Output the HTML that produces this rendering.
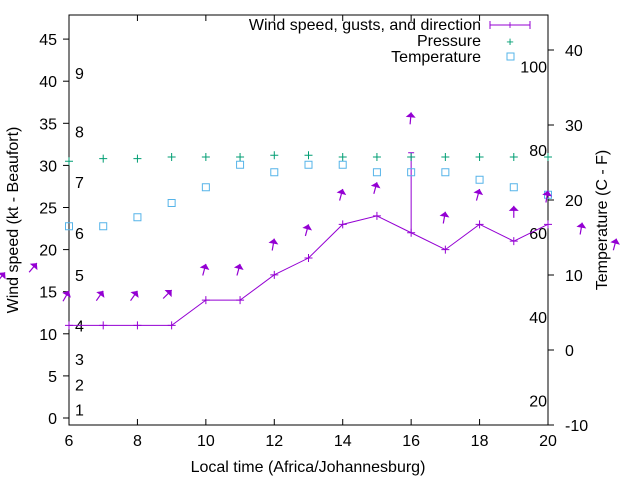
<!DOCTYPE html>
<html><head><meta charset="utf-8"><style>
html,body{margin:0;padding:0;background:#fff}
svg{display:block;font-family:"Liberation Sans",sans-serif}
</style></head><body>
<svg id="chart" width="640" height="480" viewBox="0 0 640 480" xmlns="http://www.w3.org/2000/svg">
<g id="axes"></g>
<g id="marks"></g>
<g id="legend" font-size="16" fill="#000">
  <text x="481" y="30" text-anchor="end">Wind speed, gusts, and direction</text>
  <line x1="490" y1="25" x2="530" y2="25" stroke="#9400d3"/>
  <line x1="490" y1="21" x2="490" y2="29" stroke="#9400d3"/>
  <line x1="530" y1="21" x2="530" y2="29" stroke="#9400d3"/>
  <text x="510" y="29" text-anchor="middle" fill="#9400d3" font-size="12">+</text>
  <text x="481" y="46" text-anchor="end">Pressure</text>
  <text x="510" y="46" text-anchor="middle" fill="#009e73" font-size="13">+</text>
  <text x="481" y="62" text-anchor="end">Temperature</text>
  <rect x="507" y="53" width="7" height="7" fill="none" stroke="#56b4e9"/>
</g>
</svg>
<script>
const hours = [6,7,8,9,10,11,12,13,14,15,16,17,18,19,20];
const windKt = [11,11,11,11,14,14,17,19,23,24,22,20,23,21,23];
const gustKt = [null,null,null,null,null,null,null,null,null,null,31.5,null,null,null,null];
const pressureVals = [30.5,30.8,30.8,31,31,31,31.2,31.2,31,31,31,31,31,31,31];
const tempC = [16.5,16.5,17.7,19.6,21.7,24.7,23.7,24.7,24.7,23.7,23.7,23.7,22.7,21.7,20.7];
const arrowHours = [4.13,5.06,6,7,8,9,10,11,12,13,14,15,16,17,18,19,20,21,22];
const arrowKt = [17.3,18.4,15.1,15.1,15.1,15.2,18.3,18.3,21.3,23.0,27.2,28.0,36.3,24.5,27.2,25.2,27.0,23.2,21.3];
const arrowDir = [40,40,30,35,35,45,15,15,10,15,15,15,5,10,15,0,10,10,15];
const xTicks = [6,8,10,12,14,16,18,20];
const yTicks = [0,5,10,15,20,25,30,35,40,45];
const y2Ticks = [-10,0,10,20,30,40];
const beaufortLabels = ["1","2","3","4","5","6","7","8","9"];
const beaufortKt = [1,4,7,11,17,22,28,34,41];
const fahrLabels = ["20","40","60","80","100"];
const fahrC = [-6.7,4.4,15.6,26.7,37.8];

const L=69,R=548,T=15,B=425;
const xs=h=>L+(h-6)*(R-L)/14;
const ys=k=>418-k*8.42;
const y2=c=>350-c*7.5;
const NS="http://www.w3.org/2000/svg";
function mk(parent,tag,attrs){const e=document.createElementNS(NS,tag);for(const k in attrs)e.setAttribute(k,attrs[k]);parent.appendChild(e);return e;}
const ax=document.getElementById('axes'), mg=document.getElementById('marks');

let fr=mk(ax,'rect',{x:L,y:T,width:R-L,height:B-T,fill:'none',stroke:'#000'});


xTicks.forEach(v=>{
  let t=mk(ax,'path',{d:`M${xs(v)},${B}v-6M${xs(v)},${T}v6`,stroke:'#000'});
  
  
  let l=mk(ax,'text',{x:xs(v),y:B+21,'text-anchor':'middle','font-size':16});l.textContent=v;
  
  
});
yTicks.forEach(v=>{
  let t=mk(ax,'path',{d:`M${L},${ys(v)}h-6`,stroke:'#000'});
  
  
  let l=mk(ax,'text',{x:57,y:ys(v)+6,'text-anchor':'end','font-size':16});l.textContent=v;
  
  
});
y2Ticks.forEach(v=>{
  let t=mk(ax,'path',{d:`M${R},${y2(v)}h6`,stroke:'#000'});
  
  
  let l=mk(ax,'text',{x:565,y:y2(v)+6,'font-size':16});l.textContent=v;
  
  
});
beaufortLabels.forEach((s,i)=>{
  let l=mk(ax,'text',{x:75,y:ys(beaufortKt[i])+6,'font-size':16});l.textContent=s;
  
  
});
fahrLabels.forEach((s,i)=>{
  let l=mk(ax,'text',{x:547,y:y2(fahrC[i])+6,'text-anchor':'end','font-size':16});l.textContent=s;
  
  
});
let t1=mk(ax,'text',{x:308,y:472,'text-anchor':'middle','font-size':16});t1.textContent='Local time (Africa/Johannesburg)';


let t2=mk(ax,'text',{transform:'translate(18,220) rotate(-90)','text-anchor':'middle','font-size':16});t2.textContent='Wind speed (kt - Beaufort)';


let t3=mk(ax,'text',{transform:'translate(607,220) rotate(-90)','text-anchor':'middle','font-size':16});t3.textContent='Temperature (C - F)';



let pl=mk(mg,'polyline',{points:hours.map((h,i)=>xs(h)+','+ys(windKt[i])).join(' '),fill:'none',stroke:'#9400d3'});


hours.forEach((h,i)=>{
  let p=mk(mg,'path',{d:`M${xs(h)-4},${ys(windKt[i])}h8M${xs(h)},${ys(windKt[i])-4}v8`,stroke:'#9400d3'});
  
  
  if(gustKt[i]!=null){
    let g=mk(mg,'path',{d:`M${xs(h)},${ys(windKt[i])}V${ys(gustKt[i])}M${xs(h)-3},${ys(gustKt[i])}h6`,stroke:'#9400d3'});
    
    
  }
  let pr=mk(mg,'path',{d:`M${xs(h)-4},${ys(pressureVals[i])}h8M${xs(h)},${ys(pressureVals[i])-4}v8`,stroke:'#009e73'});
  
  
  let tp=mk(mg,'rect',{x:xs(h)-3.5,y:y2(tempC[i])-3.5,width:7,height:7,fill:'none',stroke:'#56b4e9'});
  
  
});
arrowHours.forEach((h,i)=>{
  const hx=xs(h),hy=ys(arrowKt[i]),a=arrowDir[i]*Math.PI/180;
  const dx=Math.sin(a),dy=-Math.cos(a);
  const tx=hx-dx*12,ty=hy-dy*12;
  const bx=hx-dx*5,by=hy-dy*5;
  let g=mk(mg,'g',{});
  
  
  mk(g,'line',{x1:tx,y1:ty,x2:hx,y2:hy,stroke:'#9400d3','stroke-width':1.2});
  mk(g,'polygon',{points:`${hx},${hy} ${bx-dy*5},${by+dx*5} ${bx+dy*5},${by-dx*5}`,fill:'#9400d3'});
});
</script>
</body></html>
